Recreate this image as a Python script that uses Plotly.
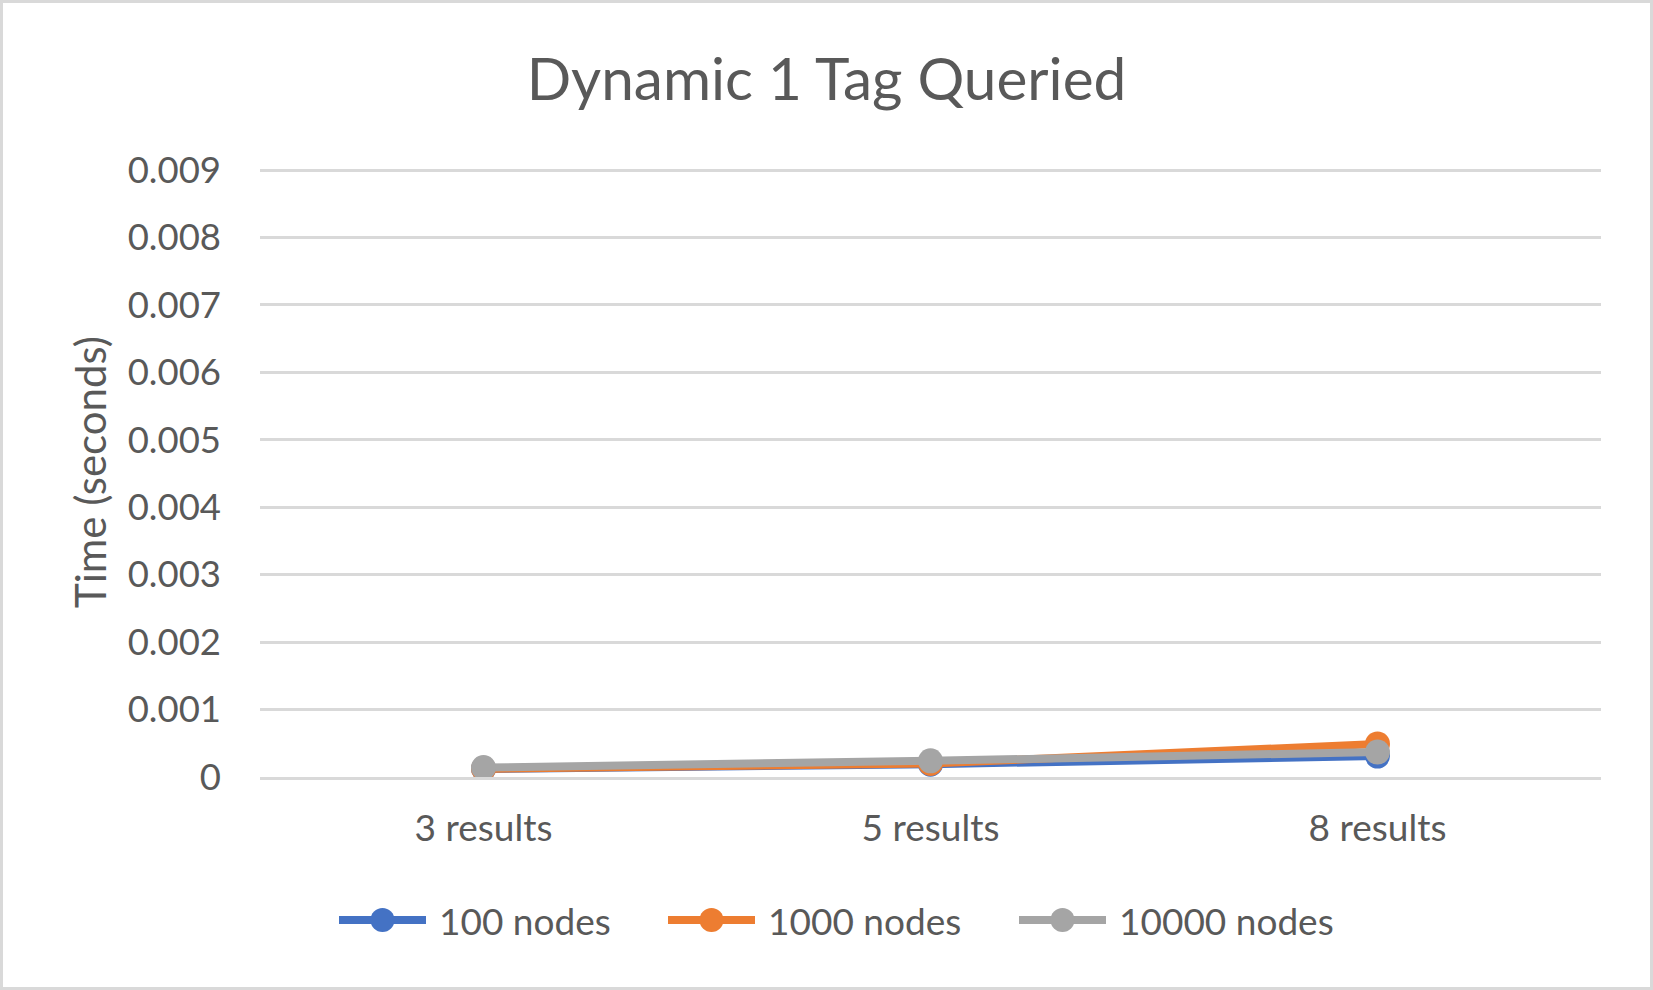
import plotly.graph_objects as go

categories = ["3 results", "5 results", "8 results"]
series_names = ["100 nodes", "1000 nodes", "10000 nodes"]
nodes_100 = [0.00012, 0.00019, 0.00031]
nodes_1000 = [0.00012, 0.00020, 0.00049]
nodes_10000 = [0.00014, 0.00024, 0.00037]
y_ticks = [0, 0.001, 0.002, 0.003, 0.004, 0.005, 0.006, 0.007, 0.008, 0.009]
y_tick_labels = ["0", "0.001", "0.002", "0.003", "0.004", "0.005", "0.006", "0.007", "0.008", "0.009"]

colors = ["#4472C4", "#ED7D31", "#A5A5A5"]
FONT = "Lato, 'Open Sans', sans-serif"
TXT = "#595959"
GRID = "#D9D9D9"
W, H = 1653, 990
L, R, T, B = 260, 52, 167, 213
pw = W - L - R
ph = H - T - B
y_top = 0.009 * (ph) / (ph - 3)

def px_x(p):
    return (p - L) / pw

def px_y(p):
    return (H - B - p) / ph

fig = go.Figure()
for name, vals, c in zip(series_names, [nodes_100, nodes_1000, nodes_10000], colors):
    fig.add_trace(go.Scatter(
        x=categories, y=vals, name=name, mode="lines+markers",
        line=dict(color=c, width=8),
        marker=dict(color=c, size=25),
        showlegend=False,
    ))

# chart border
fig.add_shape(type="rect", xref="paper", yref="paper",
              x0=px_x(1.5), x1=px_x(W - 1.5), y0=px_y(H - 1.5), y1=px_y(1.5),
              line=dict(color=GRID, width=3), fillcolor="rgba(0,0,0,0)", layer="below")

# legend (Excel style: long line with marker in the middle)
leg_items = [(335, 430, 437), (664, 759, 766), (1015, 1110, 1117)]
leg_y = 920
for (x0, x1, tx), name, c in zip(leg_items, series_names, colors):
    fig.add_shape(type="line", xref="paper", yref="paper",
                  x0=px_x(x0 + 4), x1=px_x(x1 - 4), y0=px_y(leg_y), y1=px_y(leg_y),
                  line=dict(color=c, width=8))
    cx = (x0 + x1) / 2
    r = 12
    fig.add_shape(type="circle", xref="paper", yref="paper",
                  x0=px_x(cx - r), x1=px_x(cx + r), y0=px_y(leg_y + r), y1=px_y(leg_y - r),
                  line=dict(color=c, width=0), fillcolor=c)
    fig.add_annotation(text=name, xref="paper", yref="paper", x=px_x(tx), y=px_y(leg_y),
                       xanchor="left", yanchor="middle", showarrow=False,
                       font=dict(family=FONT, size=37, color=TXT))

fig.update_layout(
    width=W, height=H,
    margin=dict(l=L, r=R, t=T, b=B),
    paper_bgcolor="white", plot_bgcolor="white",
    showlegend=False,
    title=dict(text="Dynamic 1 Tag Queried", x=0.5, xanchor="center", y=1 - 80 / H, yanchor="middle",
               font=dict(family=FONT, size=58.5, color=TXT)),
    xaxis=dict(showgrid=False, showline=True, linecolor=GRID, linewidth=2.5,
               range=[-0.5, 2.5],
               tickfont=dict(family=FONT, size=37, color=TXT), ticks="",
               ticklabelstandoff=17),
    yaxis=dict(range=[0, y_top], tickvals=y_ticks, ticktext=y_tick_labels,
               showgrid=True, gridcolor=GRID, gridwidth=2.5, zeroline=False, showline=False,
               tickfont=dict(family=FONT, size=36.5, color=TXT), ticks="",
               ticklabelstandoff=38,
               title=dict(text="Time (seconds)", font=dict(family=FONT, size=42, color=TXT), standoff=8)),
)

fig.write_html("out.html", config={"displayModeBar": False},
               post_script="document.body.style.margin='0';")
